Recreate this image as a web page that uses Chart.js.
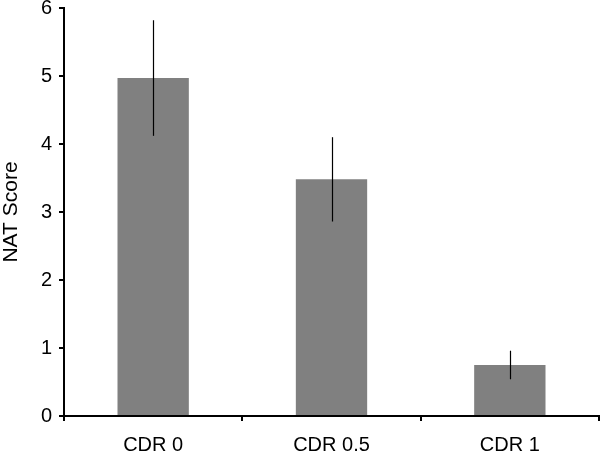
<!DOCTYPE html>
<html>
<head>
<meta charset="utf-8">
<script src="https://cdn.jsdelivr.net/npm/chart.js@4/dist/chart.umd.min.js"></script>
<style>
  html, body { margin: 0; padding: 0; background: #fff; }
  #wrap { width: 600px; height: 453px; }
</style>
</head>
<body>
<div id="wrap"><canvas id="c"></canvas></div>
<script>
const categories = ['CDR 0', 'CDR 0.5', 'CDR 1']
const means = [4.97, 3.48, 0.75]
const errors = [0.85, 0.62, 0.21]
const yTicks = [0, 1, 2, 3, 4, 5, 6]
const yTitle = 'NAT Score'

const font = "'Liberation Sans', Arial, sans-serif"

// error bars, no caps
const errorBars = {
  id: 'errorBars',
  afterDatasetsDraw(chart) {
    const ctx = chart.ctx
    const y = chart.scales.y
    const meta = chart.getDatasetMeta(0)
    ctx.save()
    ctx.strokeStyle = '#000'
    ctx.lineWidth = 1.2
    meta.data.forEach((bar, i) => {
      const x = Math.round(bar.x) + 0.5
      ctx.beginPath()
      ctx.moveTo(x, y.getPixelForValue(means[i] + errors[i]))
      ctx.lineTo(x, y.getPixelForValue(means[i] - errors[i]))
      ctx.stroke()
    })
    ctx.restore()
  }
}

// rotated y title, drawn by hand so it can sit at the far left
const yTitlePlugin = {
  id: 'yTitle',
  afterDraw(chart) {
    const ctx = chart.ctx
    const area = chart.chartArea
    ctx.save()
    ctx.translate(11, (area.top + area.bottom) / 2)
    ctx.rotate(-Math.PI / 2)
    ctx.fillStyle = '#000'
    ctx.font = '21px ' + font
    ctx.textAlign = 'center'
    ctx.textBaseline = 'middle'
    ctx.fillText(yTitle, 0, 0)
    ctx.restore()
  }
}

new Chart(document.getElementById('c'), {
  type: 'bar',
  data: {
    labels: categories,
    datasets: [{
      data: means,
      backgroundColor: '#808080',
      borderWidth: 0,
      categoryPercentage: 1,
      barPercentage: 0.4
    }]
  },
  plugins: [errorBars, yTitlePlugin],
  options: {
    responsive: true,
    maintainAspectRatio: false,
    animation: false,
    layout: { padding: { top: 8, right: 1, left: 0, bottom: 0 } },
    plugins: {
      legend: { display: false },
      tooltip: { enabled: false }
    },
    scales: {
      x: {
        grid: {
          offset: true,
          drawOnChartArea: false,
          color: '#000',
          tickLength: 5,
          lineWidth: 2
        },
        border: { color: '#000', width: 2 },
        ticks: {
          color: '#000',
          font: { family: font, size: 20 },
          padding: 12,
          maxRotation: 0
        },
        afterFit(scale) { scale.height = 37 }
      },
      y: {
        min: 0,
        max: 6,
        afterBuildTicks(scale) { scale.ticks = yTicks.map(v => ({ value: v })) },
        grid: {
          drawOnChartArea: false,
          color: '#000',
          tickLength: 5,
          lineWidth: 2
        },
        border: { color: '#000', width: 2 },
        ticks: {
          color: '#000',
          font: { family: font, size: 20 },
          padding: 7
        },
        afterFit(scale) {
          scale.width = 64
          scale.paddingTop = 0
          scale.paddingBottom = 0
        }
      }
    }
  }
})
</script>
</body>
</html>
